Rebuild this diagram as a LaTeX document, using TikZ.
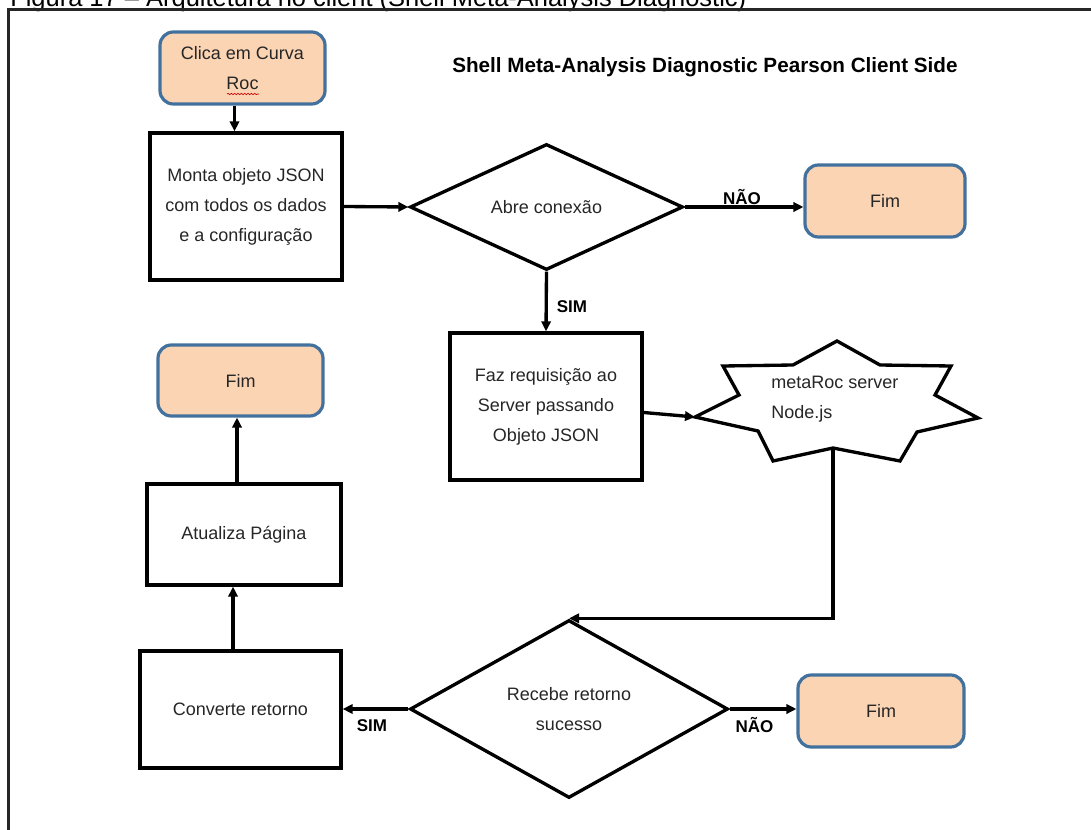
\documentclass[tikz,border=0pt]{standalone}
\usepackage{fontspec}
\setmainfont{Liberation Sans}
\usetikzlibrary{shapes.geometric,arrows.meta,decorations.pathmorphing}

\definecolor{peach}{HTML}{FBD4B4}
\definecolor{edgeblue}{HTML}{41719C}
\definecolor{ink}{HTML}{262626}

% one unit = one pixel of the drawing
\newcommand\pxu{0.75pt}

\begin{document}
\begin{tikzpicture}[x=0.75pt,y=-0.75pt,
  bodyfont/.style={font=\fontsize{13.5}{22.5}\selectfont, text=ink},
  terminal/.style={bodyfont, draw=edgeblue, fill=peach, line width=2.4pt,
    rounded corners=10pt, align=center, inner sep=0pt},
  procbox/.style={bodyfont, draw=black, line width=2.5pt, align=center, inner sep=0pt},
  decision/.style={bodyfont, diamond, draw=black, line width=2.5pt, align=center, inner sep=0pt},
  arr/.style={line width=2.5pt, -{Triangle[length=7.5pt,width=7pt]}},
  flowlabel/.style={font=\fontsize{12.75}{15}\selectfont\bfseries, text=black, inner sep=0pt},
]
\useasboundingbox (0,0) rectangle (1091,830);
\clip (0,0) rectangle (1091,830);

% caption and frame
\node[anchor=base west, inner sep=0pt, font=\fontsize{19.1}{23}\selectfont] (caption)
  at (10,6.5) {Figura 17 – Arquitetura no client (Shell Meta-Analysis Diagnostic)};
\draw[line width=1.6pt, draw=black!85] (1091,9.5) -- (8.5,9.5) -- (8.5,830);

% title
\node[anchor=base west, inner sep=0pt, font=\fontsize{15.5}{18}\selectfont\bfseries] (title)
  at (452,72.7) {Shell Meta-Analysis Diagnostic Pearson Client Side};

% nodes
\node[terminal, minimum width=165*\pxu, minimum height=72*\pxu] (start) at (242.5,68)
  {Clica em Curva\\Roc};
\node[procbox, minimum width=192*\pxu, minimum height=147*\pxu] (monta) at (246,206.5)
  {Monta objeto JSON\\com todos os dados\\e a configuração};
\node[decision, minimum width=273*\pxu, minimum height=126*\pxu, aspect=2.17] (abre) at (546.5,207)
  {Abre conexão};
\node[terminal, minimum width=160*\pxu, minimum height=72*\pxu] (fimA) at (885,201) {Fim};
\node[procbox, minimum width=192*\pxu, minimum height=147*\pxu] (faz) at (546,406.5)
  {Faz requisição ao\\Server passando\\Objeto JSON};

% server star
\draw[line width=2.5pt, line join=miter, fill=white]
  (837,341) -- (880,365) -- (951,366) -- (935,395) -- (978,418) -- (917,432)
  -- (900,461) -- (833,448) -- (773,461) -- (758,431) -- (695,417) -- (739,395)
  -- (723,366) -- (793,365) -- cycle;
\coordinate (srvL) at (695,417);
\coordinate (srvB) at (833,448);
\node[bodyfont, anchor=west, align=left, inner sep=0pt] (srv) at (771,399)
  {metaRoc server\\Node.js};

\node[decision, minimum width=318*\pxu, minimum height=178*\pxu, aspect=1.79] (recebe) at (569,709)
  {Recebe retorno\\sucesso};
\node[terminal, minimum width=166*\pxu, minimum height=72*\pxu] (fimB) at (881,711) {Fim};
\node[procbox, minimum width=201*\pxu, minimum height=117*\pxu] (converte) at (240.5,709.5)
  {Converte retorno};
\node[procbox, minimum width=194*\pxu, minimum height=101*\pxu] (atualiza) at (244,534.5)
  {Atualiza Página};
\node[terminal, minimum width=165*\pxu, minimum height=71*\pxu] (fimC) at (240.5,380.5) {Fim};

% spelling mark under "Roc"
\draw[red!80!black, line width=0.5pt, decorate,
  decoration={snake, amplitude=0.5pt, segment length=2.5pt}] (227,94) -- (259,94);

% connectors
\draw[arr] ([xshift=-6pt]start.south) -- ([xshift=-6pt]start.south |- monta.north);
\draw[arr] (monta.east) -- (abre.west);
\draw[arr] (abre.east) -- (abre.east -| fimA.west);
\draw[arr] (abre.south) -- (faz.north);
\draw[arr] ([yshift=-4.5pt]faz.east) -- (srvL);
\draw[arr] (srvB) |- (recebe.north);
\draw[arr] (recebe.east) -- (recebe.east -| fimB.west);
\draw[arr] (recebe.west) -- (recebe.west -| converte.east);
\draw[arr] ([xshift=-5.6pt]converte.north) -- ([xshift=-5.6pt]converte.north |- atualiza.south);
\draw[arr] ([xshift=-5.25pt]atualiza.north) -- ([xshift=-5.25pt]atualiza.north |- fimC.south);

% connector labels
\node[flowlabel] (nao1) at (742,197) {NÃO};
\node[flowlabel] (sim1) at (572,307) {SIM};
\node[flowlabel] (sim2) at (372,725.5) {SIM};
\node[flowlabel] (nao2) at (754.5,725.5) {NÃO};
\end{tikzpicture}
\end{document}
